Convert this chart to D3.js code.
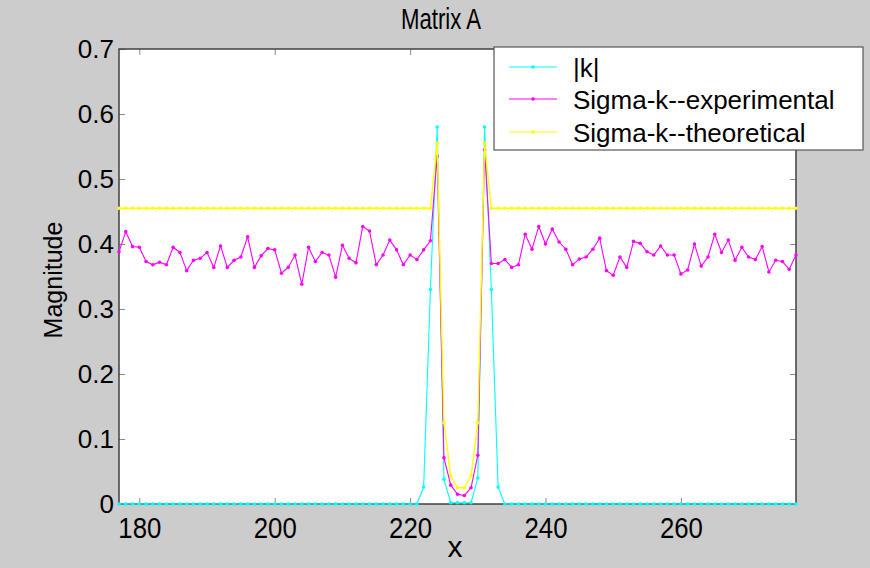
<!DOCTYPE html>
<html>
<head>
<meta charset="utf-8">
<script src="https://cdn.jsdelivr.net/npm/d3@7"></script>
<style>
  html, body { margin: 0; padding: 0; background: #cccccc; }
  svg { display: block; }
  text { font-family: "Liberation Sans", Arial, sans-serif; fill: #000; }
</style>
</head>
<body>
<svg id="chart" width="870" height="568"></svg>
<script>
// ---- data ----
const xValues = [177,178,179,180,181,182,183,184,185,186,187,188,189,190,191,192,193,194,195,196,
  197,198,199,200,201,202,203,204,205,206,207,208,209,210,211,212,213,214,215,216,
  217,218,219,220,221,222,223,224,225,226,227,228,229,230,231,232,233,234,235,236,
  237,238,239,240,241,242,243,244,245,246,247,248,249,250,251,252,253,254,255,256,
  257,258,259,260,261,262,263,264,265,266,267,268,269,270,271,272,273,274,275,276,277];

const kAbs = [0,0,0,0,0,0,0,0,0,0,0,0,0,0,0,0,0,0,0,0,
  0,0,0,0,0,0,0,0,0,0,0,0,0,0,0,0,0,0,0,0,
  0,0,0,0,0,0.026,0.33,0.58,0.038,0.002,0.002,0.002,0.002,0.04,0.58,0.33,0.026,0,0,0,
  0,0,0,0,0,0,0,0,0,0,0,0,0,0,0,0,0,0,0,0,
  0,0,0,0,0,0,0,0,0,0,0,0,0,0,0,0,0,0,0,0,0];

const sigmaExperimental = [0.388,0.419,0.396,0.395,0.373,0.368,0.372,0.368,0.395,0.387,
  0.359,0.375,0.378,0.387,0.364,0.397,0.364,0.375,0.380,0.411,
  0.364,0.382,0.393,0.391,0.355,0.364,0.383,0.338,0.395,0.373,
  0.387,0.383,0.349,0.398,0.378,0.371,0.427,0.420,0.368,0.383,
  0.406,0.391,0.368,0.383,0.376,0.391,0.405,
  0.535,0.071,0.029,0.015,0.013,0.025,0.075,0.545,
  0.370,0.370,0.376,0.364,0.368,0.415,0.392,0.427,0.400,0.423,
  0.403,0.392,0.368,0.377,0.380,0.392,0.409,0.359,0.352,0.380,
  0.364,0.404,0.401,0.388,0.383,0.397,0.383,0.383,0.354,0.360,
  0.400,0.366,0.380,0.415,0.387,0.406,0.375,0.395,0.380,0.376,
  0.396,0.357,0.375,0.373,0.361,0.383];

const sigmaTheoretical = [0.455,0.455,0.455,0.455,0.455,0.455,0.455,0.455,0.455,0.455,
  0.455,0.455,0.455,0.455,0.455,0.455,0.455,0.455,0.455,0.455,
  0.455,0.455,0.455,0.455,0.455,0.455,0.455,0.455,0.455,0.455,
  0.455,0.455,0.455,0.455,0.455,0.455,0.455,0.455,0.455,0.455,
  0.455,0.455,0.455,0.455,0.455,0.455,0.455,
  0.555,0.125,0.043,0.025,0.025,0.043,0.125,0.555,
  0.455,0.455,0.455,0.455,0.455,0.455,0.455,0.455,0.455,0.455,
  0.455,0.455,0.455,0.455,0.455,0.455,0.455,0.455,0.455,0.455,
  0.455,0.455,0.455,0.455,0.455,0.455,0.455,0.455,0.455,0.455,
  0.455,0.455,0.455,0.455,0.455,0.455,0.455,0.455,0.455,0.455,
  0.455,0.455,0.455,0.455,0.455,0.455];

const seriesNames = ["|k|", "Sigma-k--experimental", "Sigma-k--theoretical"];
const seriesColors = ["#00ffff", "#ff00ff", "#ffff00"];
const xTicks = [180, 200, 220, 240, 260];
const yTicks = [0, 0.1, 0.2, 0.3, 0.4, 0.5, 0.6, 0.7];
const titleText = "Matrix A";
const xLabel = "x";
const yLabel = "Magnitude";

// ---- layout ----
const L = 119, R = 796, T = 49, B = 504;
const svg = d3.select("#chart");
const x = d3.scaleLinear().domain([177, 277]).range([L, R]);
const y = d3.scaleLinear().domain([0, 0.7]).range([B, T]);

svg.append("rect").attr("x", 0).attr("y", 0).attr("width", 870).attr("height", 568).attr("fill", "#cccccc");
svg.append("rect").attr("x", L).attr("y", T).attr("width", R - L).attr("height", B - T).attr("fill", "#ffffff");

// ticks (inside, all four sides)
const tickLen = 6;
const tickColor = "#8a8a8a";
const tg = svg.append("g");
const fmtY = d => (d === 0 ? "0" : d3.format(".1f")(d));

tg.append("g").attr("transform", `translate(0,${B})`)
  .call(d3.axisBottom(x).tickValues(xTicks).tickSizeInner(-tickLen).tickSizeOuter(0))
  .call(g => g.select(".domain").remove())
  .call(g => g.selectAll("line").attr("stroke", tickColor))
  .call(g => g.selectAll("text").attr("font-size", 30).attr("fill", "#000")
      .attr("font-family", '"Liberation Sans", Arial, sans-serif')
      .attr("dy", null).attr("y", 34)
      .attr("transform", "scale(0.86,1)"));

tg.append("g").attr("transform", `translate(0,${T})`)
  .call(d3.axisTop(x).tickValues(xTicks).tickSizeInner(-tickLen).tickSizeOuter(0).tickFormat(""))
  .call(g => g.select(".domain").remove())
  .call(g => g.selectAll("line").attr("stroke", tickColor));

tg.append("g").attr("transform", `translate(${L},0)`)
  .call(d3.axisLeft(y).tickValues(yTicks).tickSizeInner(-tickLen).tickSizeOuter(0).tickFormat(fmtY))
  .call(g => g.select(".domain").remove())
  .call(g => g.selectAll("line").attr("stroke", tickColor))
  .call(g => g.selectAll("text").attr("font-size", 26).attr("fill", "#000")
      .attr("font-family", '"Liberation Sans", Arial, sans-serif').attr("x", -5));

tg.append("g").attr("transform", `translate(${R},0)`)
  .call(d3.axisRight(y).tickValues(yTicks).tickSizeInner(-tickLen).tickSizeOuter(0).tickFormat(""))
  .call(g => g.select(".domain").remove())
  .call(g => g.selectAll("line").attr("stroke", tickColor));

// axes box
svg.append("rect").attr("x", L).attr("y", T).attr("width", R - L).attr("height", B - T)
  .attr("fill", "none").attr("stroke", "#404040").attr("stroke-width", 1.5);

// series
const allSeries = [kAbs, sigmaExperimental, sigmaTheoretical];
const widths = [1.1, 1.1, 1.4];
const line = d3.line().x((d, i) => x(xValues[i])).y(d => y(d));
const plot = svg.append("g");
allSeries.forEach((vals, si) => {
  plot.append("path").datum(vals)
    .attr("d", line).attr("fill", "none")
    .attr("stroke", seriesColors[si]).attr("stroke-width", widths[si]);
  plot.append("g").selectAll("circle").data(vals).join("circle")
    .attr("cx", (d, i) => x(xValues[i])).attr("cy", d => y(d))
    .attr("r", 1.8).attr("fill", seriesColors[si]);
});

// title and labels
svg.append("text").attr("x", 441).attr("y", 29).attr("text-anchor", "middle")
  .attr("font-size", 30).attr("transform", "translate(441,0) scale(0.74,1) translate(-441,0)")
  .text(titleText);
svg.append("text").attr("x", 455).attr("y", 557).attr("text-anchor", "middle")
  .attr("font-size", 30).text(xLabel);
svg.append("text").attr("transform", "translate(62,280) rotate(-90)").attr("text-anchor", "middle")
  .attr("font-size", 25).text(yLabel);

// legend
const lg = svg.append("g");
lg.append("rect").attr("x", 494).attr("y", 47).attr("width", 369).attr("height", 103)
  .attr("fill", "#ffffff").attr("stroke", "#555555").attr("stroke-width", 1.2);
const rowY = [67, 99, 132];
seriesNames.forEach((name, i) => {
  lg.append("line").attr("x1", 509).attr("x2", 557).attr("y1", rowY[i]).attr("y2", rowY[i])
    .attr("stroke", seriesColors[i]).attr("stroke-width", 1.1);
  lg.append("circle").attr("cx", 533).attr("cy", rowY[i]).attr("r", 1.8).attr("fill", seriesColors[i]);
  lg.append("text").attr("x", 573).attr("y", rowY[i] + 9.5).attr("font-size", 26).text(name);
});
</script>
</body>
</html>
